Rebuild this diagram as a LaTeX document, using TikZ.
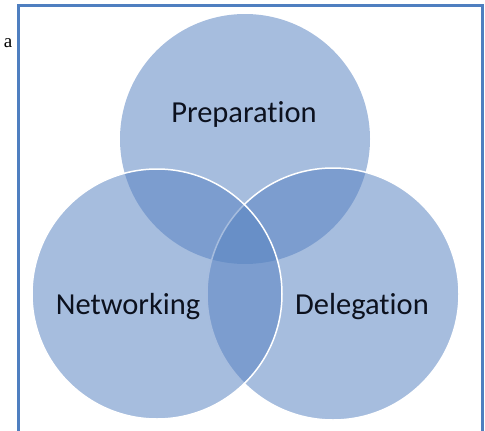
\documentclass[tikz,border=0pt]{standalone}
\usepackage{fontspec}
\setmainfont[Ligatures=NoCommon]{Carlito}
\newfontfamily\serifletter{Liberation Serif}
\begin{document}
\begin{tikzpicture}[x=1pt,y=-1pt,
  ring/.style={fill=ringblue,fill opacity=0.53},
  ringedge/.style={ring,draw=white,draw opacity=1,line width=1.5pt},
  label/.style={anchor=base,text=labelink,font=\fontsize{30.5}{36}\selectfont,inner sep=0pt}]
  \definecolor{ringblue}{RGB}{87,130,193}
  \definecolor{framebl}{RGB}{79,127,192}
  \definecolor{labelink}{RGB}{12,17,30}
  \useasboundingbox (0,0) rectangle (485,431);
  \clip (0,0) rectangle (485,431);
  % circle centres
  \coordinate (cP) at (245,139);
  \coordinate (cR) at (333,294);
  \coordinate (cL) at (157,294);
  % outer frame, running off the lower edge
  \draw[framebl,line width=3pt] (18,5) rectangle (482,470);
  % three overlapping circles: top, right, then left on top
  \fill[ring] (cP) circle[radius=125];
  \filldraw[ringedge] (cR) circle[radius=126];
  \filldraw[ringedge] (cL) circle[radius=125];
  % captions
  \node[label] (prep) at (244,122) {Preparation};
  \node[label] (netw) at (128,314) {Networking};
  \node[label] (dele) at (362,314) {Delegation};
  \node[anchor=base,inner sep=0pt,font=\serifletter\fontsize{19}{22}\selectfont] (stray) at (8,47) {a};
\end{tikzpicture}
\end{document}
